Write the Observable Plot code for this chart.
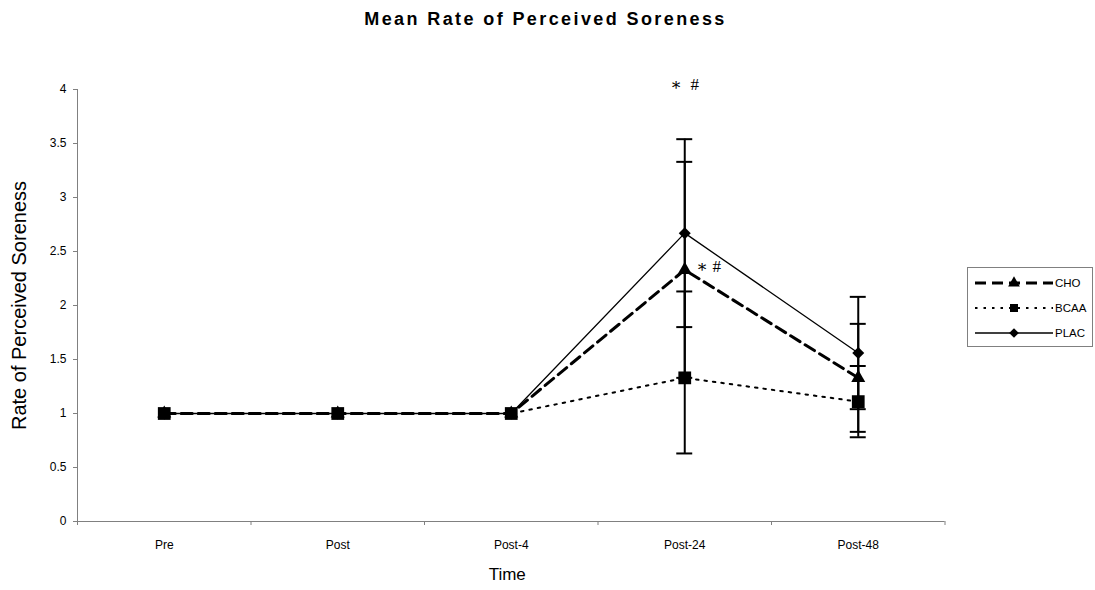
<!DOCTYPE html>
<html>
<head>
<meta charset="utf-8">
<script src="https://cdn.jsdelivr.net/npm/d3@7"></script>
<script src="https://cdn.jsdelivr.net/npm/@observablehq/plot@0.6"></script>
<style>
  html, body { margin: 0; padding: 0; background: white; }
  #wrap { position: relative; width: 1095px; height: 590px; font-family: Arial, "Liberation Sans", sans-serif; }
  #title { height: 40px; line-height: 38px; text-align: center; font-weight: bold; font-size: 18px; letter-spacing: 2.4px; padding-right: 4px; }
  #legend { position: absolute; left: 967px; top: 267px; }
</style>
</head>
<body>
<div id="wrap">
  <div id="title">Mean Rate of Perceived Soreness</div>
  <div id="chart"></div>
  <div id="legend"></div>
</div>
<script>
// ---- data ----
const times = ["Pre", "Post", "Post-4", "Post-24", "Post-48"];
const seriesNames = ["CHO", "BCAA", "PLAC"];
const choMean  = [1, 1, 1, 2.33, 1.33];
const choLow   = [1, 1, 1, 1.33, 0.83];
const choHigh  = [1, 1, 1, 3.33, 1.83];
const bcaaMean = [1, 1, 1, 1.33, 1.11];
const bcaaLow  = [1, 1, 1, 0.63, 0.78];
const bcaaHigh = [1, 1, 1, 2.13, 1.44];
const placMean = [1, 1, 1, 2.67, 1.56];
const placLow  = [1, 1, 1, 1.80, 1.04];
const placHigh = [1, 1, 1, 3.54, 2.08];
const yTicks = [0, 0.5, 1, 1.5, 2, 2.5, 3, 3.5, 4];
const annotations = [
  {time: "Post-24", y: 4.05, label: "∗  #", dx: 0},
  {time: "Post-24", y: 2.36, label: "∗ #", dx: 24}
];

// ---- build table ----
const seriesData = {
  CHO:  {mean: choMean,  low: choLow,  high: choHigh},
  BCAA: {mean: bcaaMean, low: bcaaLow, high: bcaaHigh},
  PLAC: {mean: placMean, low: placLow, high: placHigh}
};
const data = seriesNames.flatMap(s => times.map((t, i) => ({
  series: s, time: t, i,
  v: seriesData[s].mean[i], lo: seriesData[s].low[i], hi: seriesData[s].high[i]
})));
const bars = data.filter(d => d.hi > d.lo);
const caps = bars.flatMap(d => [{...d, c: d.lo}, {...d, c: d.hi}]);
const bySeries = s => data.filter(d => d.series === s);
const boundaries = d3.range(times.length + 1).map(k => k - 0.5);
const ann = annotations.map(a => ({...a, i: times.indexOf(a.time)}));

const styles = {
  CHO:  {strokeWidth: 3,   dash: "11,6", symbol: "triangle", r: 5.2},
  BCAA: {strokeWidth: 2,   dash: "2.5,6", symbol: "square",  r: 7.2},
  PLAC: {strokeWidth: 1.3, dash: null,  symbol: "diamond2",  r: 5.4}
};

const chart = Plot.plot({
  width: 1095,
  height: 550,
  marginLeft: 77,
  marginRight: 150.5,
  marginTop: 49,
  marginBottom: 69,
  x: {type: "linear", domain: [-0.5, times.length - 0.5], axis: null},
  y: {domain: [0, 4], axis: null},
  style: {fontFamily: "Arial, 'Liberation Sans', sans-serif", color: "black", background: "white", overflow: "visible"},
  marks: [
    Plot.axisY(yTicks, {tickSize: 4, tickPadding: 7, fontSize: 12, tickFormat: d => String(d), stroke: "#808080", fill: "black", label: null}),
    Plot.axisX(boundaries, {tickSize: 4, tickFormat: () => "", stroke: "#808080", label: null}),
    Plot.axisX(d3.range(times.length), {tickSize: 0, tickPadding: 19, tickFormat: i => times[i], fontSize: 12, fill: "black", label: null, style: "letter-spacing:1.2px"}),
    Plot.ruleY([0], {stroke: "#808080", strokeWidth: 1}),
    Plot.ruleX([-0.5], {stroke: "#808080", strokeWidth: 1}),
    Plot.text(["Rate of Perceived Soreness"], {frameAnchor: "left", textAnchor: "middle", rotate: -90, dx: -58, fontSize: 20, fill: "black", style: "letter-spacing:1.4px"}),
    Plot.text(["Time"], {frameAnchor: "bottom", dy: 58, dx: -4, fontSize: 17, fill: "black"}),
    // lines
    ...["PLAC", "CHO", "BCAA"].map(s => Plot.line(bySeries(s), {
      x: "i", y: "v", stroke: "black",
      strokeWidth: styles[s].strokeWidth,
      strokeDasharray: styles[s].dash ?? undefined
    })),
    // error bars
    Plot.ruleX(bars, {x: "i", y1: "lo", y2: "hi", stroke: "black", strokeWidth: 2}),
    Plot.ruleY(caps, {y: "c", x1: d => d.i - 0.046, x2: d => d.i + 0.046, stroke: "black", strokeWidth: 2}),
    // markers
    ...["PLAC", "CHO", "BCAA"].map(s => Plot.dot(bySeries(s), {
      x: "i", y: "v", symbol: styles[s].symbol, r: styles[s].r, fill: "black", stroke: "none"
    })),
    // significance annotations
    Plot.text(ann.slice(0, 1), {x: "i", y: "y", text: "label", fontSize: 17, fontFamily: "'Liberation Serif', 'DejaVu Serif', serif", fill: "black"}),
    Plot.text(ann.slice(1), {x: "i", y: "y", text: "label", dx: ann[1].dx, fontSize: 17, fontFamily: "'Liberation Serif', 'DejaVu Serif', serif", fill: "black"}),
  ]
});
document.getElementById("chart").appendChild(chart);

// ---- legend ----
const legendItems = seriesNames.map((s, k) => ({name: s, ...styles[s], k}));
const lw = 126, lh = 80;
const lsvg = d3.create("svg").attr("width", lw).attr("height", lh)
  .style("font-family", "Arial, 'Liberation Sans', sans-serif").style("overflow", "visible");
lsvg.append("rect").attr("x", 0.5).attr("y", 0.5).attr("width", lw - 1).attr("height", lh - 1)
  .attr("fill", "white").attr("stroke", "#808080");
const g = lsvg.selectAll("g").data(legendItems).join("g")
  .attr("transform", d => `translate(0,${16 + d.k * 25})`);
g.append("line").attr("x1", 8).attr("x2", 86).attr("y1", 0).attr("y2", 0)
  .attr("stroke", "black").attr("stroke-width", d => d.strokeWidth)
  .attr("stroke-dasharray", d => d.dash);
const symMap = {triangle: d3.symbolTriangle, square: d3.symbolSquare, diamond2: d3.symbolDiamond2};
g.append("path").attr("transform", "translate(47,0)")
  .attr("d", d => d3.symbol(symMap[d.symbol], d.symbol === "square" ? 64 : 60)())
  .attr("fill", "black");
g.append("text").attr("x", 88).attr("y", 0).attr("dy", "0.35em").attr("font-size", 11.5)
  .text(d => d.name);
document.getElementById("legend").appendChild(lsvg.node());
</script>
</body>
</html>
